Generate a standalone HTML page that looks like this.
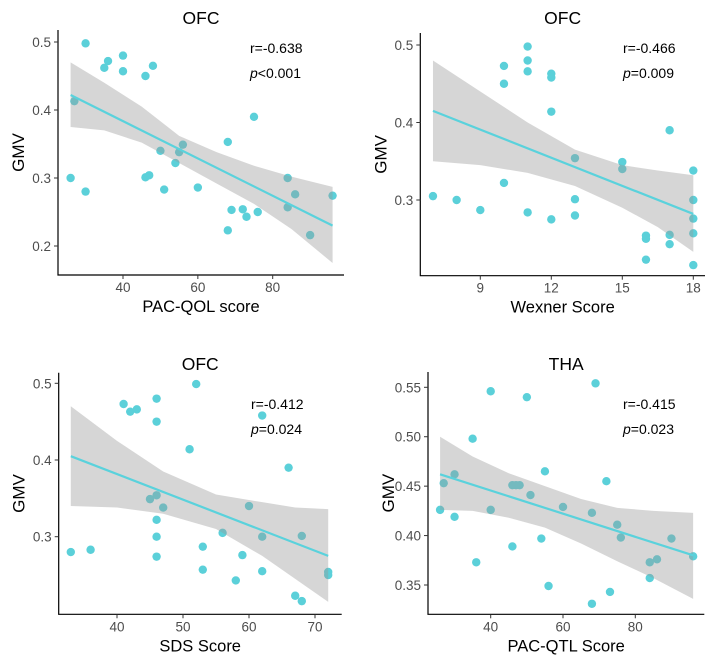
<!DOCTYPE html>
<html><head><meta charset="utf-8"><style>
html,body{margin:0;padding:0;background:#fff;}
svg{display:block;font-family:"Liberation Sans",Arial,sans-serif;}
</style></head><body>
<svg id="fig" width="712" height="663" viewBox="0 0 712 663"></svg>
<script>
// ---- Panel A: OFC vs PAC-QOL ----
const aX=[30,27,26,30,35,36,40,40,46,48,46,47,50,51,54,55,56,60,68,69,68,72,73,75,76,84,84,86,90,96];
const aY=[0.498,0.413,0.300,0.280,0.462,0.472,0.480,0.457,0.450,0.465,0.301,0.304,0.340,0.283,0.322,0.338,0.349,0.286,0.353,0.253,0.223,0.254,0.243,0.390,0.250,0.300,0.257,0.276,0.216,0.274];
const aFitX=[26,96], aFitY=[0.422,0.230];
const aBandX=[26,35,45,55,65,75,85,96];
const aBandHi=[0.470,0.440,0.405,0.362,0.338,0.318,0.302,0.287];
const aBandLo=[0.375,0.370,0.352,0.322,0.292,0.262,0.225,0.175];
const aXTicks=[40,60,80], aYTicks=[0.2,0.3,0.4,0.5];
// ---- Panel B: OFC vs Wexner ----
const bX=[7,8,9,10,10,10,11,11,11,11,12,12,12,12,13,13,13,15,15,16,16,16,17,17,17,18,18,18,18,18];
const bY=[0.305,0.300,0.287,0.473,0.450,0.322,0.498,0.480,0.466,0.284,0.463,0.458,0.414,0.275,0.354,0.301,0.280,0.349,0.340,0.254,0.250,0.223,0.390,0.255,0.243,0.338,0.300,0.276,0.257,0.216];
const bFitX=[7,18], bFitY=[0.415,0.282];
const bBandX=[7,9,11,13,15,16.5,18];
const bBandHi=[0.480,0.440,0.400,0.365,0.345,0.338,0.332];
const bBandLo=[0.350,0.345,0.335,0.318,0.290,0.265,0.233];
const bXTicks=[9,12,15,18], bYTicks=[0.3,0.4,0.5];
// ---- Panel C: OFC vs SDS ----
const cX=[33,36,41,42,43,45,46,46,46,46,46,46,47,51,52,53,53,56,58,59,60,62,62,62,66,67,68,68,72,72];
const cY=[0.280,0.283,0.473,0.463,0.466,0.349,0.480,0.450,0.354,0.322,0.300,0.274,0.338,0.414,0.499,0.287,0.257,0.305,0.243,0.276,0.340,0.458,0.300,0.255,0.390,0.223,0.301,0.216,0.254,0.250];
const cFitX=[33,72], cFitY=[0.405,0.275];
const cBandX=[33,40,47,55,62,67,72];
const cBandHi=[0.470,0.425,0.385,0.355,0.345,0.338,0.336];
const cBandLo=[0.340,0.338,0.330,0.310,0.275,0.245,0.215];
const cXTicks=[40,50,60,70], cYTicks=[0.3,0.4,0.5];
// ---- Panel D: THA vs PAC-QTL ----
const dX=[26,27,30,30,35,36,40,40,46,46,47,48,50,51,54,55,56,60,68,68,69,72,73,75,76,84,84,86,90,96];
const dY=[0.426,0.453,0.462,0.419,0.498,0.373,0.546,0.426,0.451,0.389,0.451,0.451,0.540,0.441,0.397,0.465,0.349,0.429,0.423,0.331,0.554,0.455,0.343,0.411,0.398,0.373,0.357,0.376,0.397,0.379];
const dFitX=[26,96], dFitY=[0.462,0.380];
const dBandX=[26,35,45,55,65,75,85,96];
const dBandHi=[0.500,0.480,0.463,0.450,0.437,0.428,0.425,0.423];
const dBandLo=[0.426,0.425,0.418,0.408,0.392,0.374,0.357,0.336];
const dXTicks=[40,60,80], dYTicks=[0.35,0.40,0.45,0.50,0.55];

const NS="http://www.w3.org/2000/svg";
const svg=document.getElementById('fig');
function mk(tag,attrs,parent,txt){const e=document.createElementNS(NS,tag);for(const k in attrs)e.setAttribute(k,attrs[k]);if(txt!==undefined)e.textContent=txt;(parent||svg).appendChild(e);return e;}

const panels=[
 {key:'pacqol',title:'OFC',xlab:'PAC-QOL score',r:'r=-0.638',p:'<0.001',X:aX,Y:aY,fx:aFitX,fy:aFitY,bx:aBandX,bh:aBandHi,bl:aBandLo,xt:aXTicks,yt:aYTicks,dec:1,
  x0:58,x1:344,yTop:30,yBot:275,xa:40,xpa:123,xb:80,xpb:272.7,ya:0.2,ypa:246,yb:0.5,ypb:42,titleY:24,annX:250,annY:53},
 {key:'wexner',title:'OFC',xlab:'Wexner Score',r:'r=-0.466',p:'=0.009',X:bX,Y:bY,fx:bFitX,fy:bFitY,bx:bBandX,bh:bBandHi,bl:bBandLo,xt:bXTicks,yt:bYTicks,dec:1,
  x0:420.3,x1:705,yTop:33,yBot:275.7,xa:9,xpa:480.3,xb:18,xpb:693.3,ya:0.3,ypa:200,yb:0.5,ypb:45,titleY:24,annX:623,annY:53},
 {key:'sds',title:'OFC',xlab:'SDS Score',r:'r=-0.412',p:'=0.024',X:cX,Y:cY,fx:cFitX,fy:cFitY,bx:cBandX,bh:cBandHi,bl:cBandLo,xt:cXTicks,yt:cYTicks,dec:1,
  x0:58.7,x1:341.7,yTop:372.7,yBot:614.3,xa:40,xpa:117,xb:70,xpb:315,ya:0.3,ypa:536.7,yb:0.5,ypb:383.3,titleY:370,annX:251,annY:409},
 {key:'pacqtl',title:'THA',xlab:'PAC-QTL Score',r:'r=-0.415',p:'=0.023',X:dX,Y:dY,fx:dFitX,fy:dFitY,bx:dBandX,bh:dBandHi,bl:dBandLo,xt:dXTicks,yt:dYTicks,dec:2,
  x0:428,x1:704.3,yTop:372,yBot:614.3,xa:40,xpa:490.7,xb:80,xpb:635.3,ya:0.35,ypa:585,yb:0.55,ypb:387.3,titleY:370,annX:623,annY:409}
];

panels.forEach(P=>{
 const g=mk('g',{});
 
 
 const sx=v=>P.xpa+(v-P.xa)*(P.xpb-P.xpa)/(P.xb-P.xa);
 const sy=v=>P.ypa+(v-P.ya)*(P.ypb-P.ypa)/(P.yb-P.ya);
 const pg=mk('g',{},g);
 
 
 P.X.forEach((x,i)=>{
  const c=mk('circle',{cx:sx(x),cy:sy(P.Y[i]),r:4.2,fill:'#5bd0d9'},pg);
  
  
 });
 let d='M'+P.bx.map((x,i)=>sx(x)+','+sy(P.bh[i])).join(' L');
 d+=' L'+P.bx.slice().reverse().map((x,i)=>sx(x)+','+sy(P.bl[P.bl.length-1-i])).join(' L')+'Z';
 const band=mk('path',{d:d,fill:'#999999','fill-opacity':0.4,stroke:'none'},g);
 
 
 const fit=mk('line',{x1:sx(P.fx[0]),y1:sy(P.fy[0]),x2:sx(P.fx[1]),y2:sy(P.fy[1]),stroke:'#5ad2dc','stroke-width':2.2},g);
 
 
 const ax=mk('path',{d:`M${P.x0},${P.yTop} L${P.x0},${P.yBot} L${P.x1},${P.yBot}`,fill:'none',stroke:'#000','stroke-width':1.2},g);
 
 
 P.xt.forEach(t=>{
  mk('line',{x1:sx(t),x2:sx(t),y1:P.yBot,y2:P.yBot+4,stroke:'#333'},g);
  const tl=mk('text',{x:sx(t),y:P.yBot+17,'text-anchor':'middle','font-size':13.5,fill:'#4d4d4d'},g,String(t));
  
  
 });
 P.yt.forEach(t=>{
  mk('line',{x1:P.x0-4,x2:P.x0,y1:sy(t),y2:sy(t),stroke:'#333'},g);
  const tl=mk('text',{x:P.x0-7,y:sy(t)+5,'text-anchor':'end','font-size':13.5,fill:'#4d4d4d'},g,t.toFixed(P.dec));
  
  
 });
 const xl=mk('text',{x:(P.x0+P.x1)/2,y:P.yBot+37,'text-anchor':'middle','font-size':16.5,fill:'#000'},g,P.xlab);
 
 
 const ymid=(P.yTop+P.yBot)/2;
 const yx=P.x0-34;
 const yl=mk('text',{x:yx,y:ymid,'text-anchor':'middle','font-size':17,fill:'#000',transform:`rotate(-90 ${yx} ${ymid})`},g,'GMV');
 
 
 const tt=mk('text',{x:(P.x0+P.x1)/2,y:P.titleY,'text-anchor':'middle','font-size':17.5,fill:'#000'},g,P.title);
 
 
 const rt=mk('text',{x:P.annX,y:P.annY,'font-size':14,fill:'#000'},g,P.r);
 
 
 const pt=mk('text',{x:P.annX,y:P.annY+25,'font-size':14,fill:'#000'},g);
 
 
 mk('tspan',{'font-style':'italic'},pt,'p');
 mk('tspan',{},pt,P.p);
});
</script>
</body></html>
